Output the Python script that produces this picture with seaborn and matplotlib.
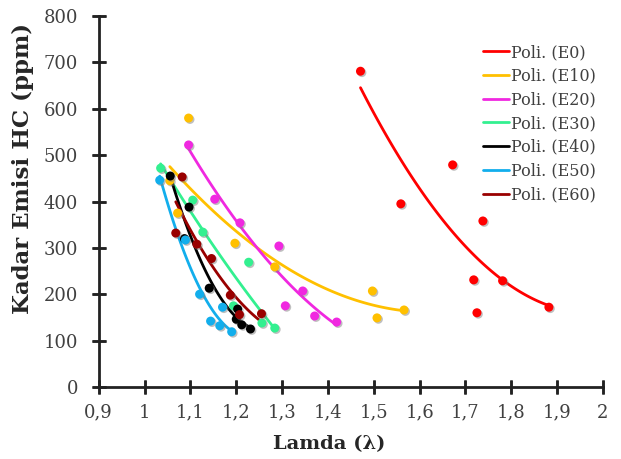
import numpy as np
import pandas as pd
import matplotlib
matplotlib.use('Agg')
import matplotlib.pyplot as plt
import matplotlib.patheffects as pe
import seaborn as sns

# data (lambda vs HC emission, ppm)
labels = ['E0', 'E10', 'E20', 'E30', 'E40', 'E50', 'E60']
colors = ['#FF0000', '#FFC000', '#F028E0', '#33F090', '#000000', '#12AEEC', '#990000']

lam_e0 = [1.471, 1.559, 1.672, 1.718, 1.725, 1.738, 1.781, 1.882]
hc_e0 = [681, 395, 479, 231, 160, 358, 229, 172]
lam_e10 = [1.055, 1.072, 1.096, 1.197, 1.284, 1.497, 1.507, 1.566]
hc_e10 = [445, 375, 580, 310, 259, 207, 149, 166]
lam_e20 = [1.096, 1.153, 1.208, 1.293, 1.307, 1.345, 1.371, 1.419]
hc_e20 = [522, 405, 354, 304, 175, 207, 153, 140]
lam_e30 = [1.035, 1.105, 1.127, 1.194, 1.227, 1.256, 1.284]
hc_e30 = [472, 403, 334, 175, 269, 138, 127]
lam_e40 = [1.056, 1.087, 1.097, 1.141, 1.200, 1.203, 1.212, 1.231]
hc_e40 = [455, 320, 388, 213, 146, 168, 134, 125]
lam_e50 = [1.033, 1.089, 1.120, 1.144, 1.164, 1.170, 1.190]
hc_e50 = [446, 317, 200, 142, 132, 172, 119]
lam_e60 = [1.068, 1.082, 1.114, 1.146, 1.187, 1.207, 1.255]
hc_e60 = [332, 453, 308, 277, 198, 156, 158]

lams = [lam_e0, lam_e10, lam_e20, lam_e30, lam_e40, lam_e50, lam_e60]
hcs = [hc_e0, hc_e10, hc_e20, hc_e30, hc_e40, hc_e50, hc_e60]
xtick_labels = ['0,9', '1', '1,1', '1,2', '1,3', '1,4', '1,5', '1,6', '1,7', '1,8', '1,9', '2']

sns.set_style('white', {'xtick.bottom': True, 'ytick.left': True,
                        'xtick.direction': 'inout', 'ytick.direction': 'inout'})
plt.rcParams['font.family'] = ['DejaVu Serif']
plt.rcParams['xtick.major.pad'] = 7
plt.rcParams['ytick.major.pad'] = 10

fig = plt.figure(figsize=(6.21, 4.59), dpi=100)
ax = fig.add_axes([0.159, 0.157, 0.812, 0.808])

shadow = [pe.SimplePatchShadow(offset=(1, -1), shadow_rgbFace='#808080', alpha=0.5), pe.Normal()]

for name, col, x, y in zip(labels, colors, lams, hcs):
    df = pd.DataFrame({'lamda': x, 'hc': y})
    sc = ax.scatter(df['lamda'], df['hc'], s=42, color=col, zorder=3, linewidths=0)
    sc.set_path_effects(shadow)
    sns.regplot(data=df, x='lamda', y='hc', order=2, ci=None, scatter=False,
                color=col, line_kws={'lw': 2, 'zorder': 2}, label='Poli. (%s)' % name, ax=ax)

ax.set_xlim(0.9, 2.0)
ax.set_ylim(0, 800)
ax.set_xticks(np.arange(0.9, 2.01, 0.1))
ax.set_yticks(range(0, 801, 100))
ax.set_xticklabels(xtick_labels)
ax.tick_params(bottom=True, left=True, direction='inout', length=10, width=1.8,
               color='#222222', labelsize=13, labelcolor='#404040')

ax.spines['top'].set_visible(False)
ax.spines['right'].set_visible(False)
ax.spines['left'].set_linewidth(2)
ax.spines['bottom'].set_linewidth(2)
ax.spines['left'].set_color('#222222')
ax.spines['bottom'].set_color('#222222')

ax.set_xlabel('Lamda (λ)', fontsize=14, fontweight='bold')
ax.set_ylabel('Kadar Emisi HC (ppm)', fontsize=16.5, fontweight='bold')
ax.xaxis.set_label_coords(0.457, -0.129)
ax.yaxis.set_label_coords(-0.128, 0.588)

leg = ax.legend(loc='upper left', bbox_to_anchor=(0.75, 0.942), frameon=False, fontsize=11.5,
                handlelength=1.6, handletextpad=0.15, labelspacing=0.42, borderaxespad=0)
for t in leg.get_texts():
    t.set_color('#404040')

# tick marks crossing the axis lines, placed at the axis' own tick locations
xt = ax.get_xticks()
yt = ax.get_yticks()
ax.plot(xt, np.zeros(len(xt)), ls='none', marker='|', ms=10, mew=1.8, color='#222222',
        transform=ax.get_xaxis_transform(), clip_on=False, zorder=5, label='_nolegend_')
ax.plot(np.zeros(len(yt)), yt, ls='none', marker='_', ms=10, mew=1.8, color='#222222',
        transform=ax.get_yaxis_transform(), clip_on=False, zorder=5, label='_nolegend_')
ax.set_xlim(0.9, 2.0)
ax.set_ylim(0, 800)

fig.savefig('out.png', dpi=100)
